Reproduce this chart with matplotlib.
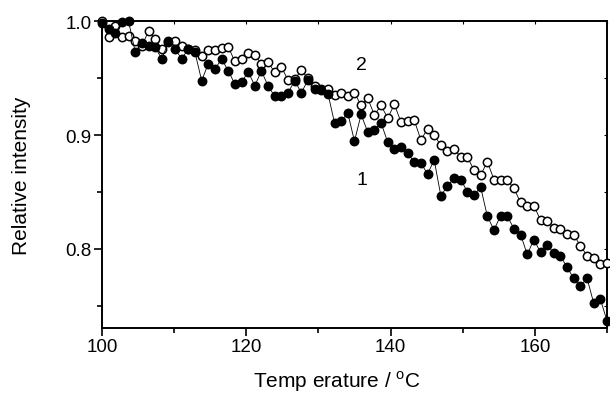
import matplotlib
matplotlib.use("Agg")
import matplotlib.pyplot as plt
from matplotlib.ticker import MultipleLocator

temperature = [100.00, 100.92, 101.84, 102.76, 103.68, 104.61, 105.53, 106.45, 107.37, 108.29,
               109.21, 110.13, 111.05, 111.97, 112.89, 113.82, 114.74, 115.66, 116.58, 117.50,
               118.42, 119.34, 120.26, 121.18, 122.11, 123.03, 123.95, 124.87, 125.79, 126.71,
               127.63, 128.55, 129.47, 130.39, 131.32, 132.24, 133.16, 134.08, 135.00, 135.92,
               136.84, 137.76, 138.68, 139.61, 140.53, 141.45, 142.37, 143.29, 144.21, 145.13,
               146.05, 146.97, 147.89, 148.82, 149.74, 150.66, 151.58, 152.50, 153.42, 154.34,
               155.26, 156.18, 157.11, 158.03, 158.95, 159.87, 160.79, 161.71, 162.63, 163.55,
               164.47, 165.39, 166.32, 167.24, 168.16, 169.08, 170.00]

series1 = [0.998, 0.993, 0.9895, 0.9993, 1.000, 0.9725, 0.9807, 0.9781, 0.9769, 0.9667,
           0.9816, 0.9752, 0.9670, 0.9754, 0.9725, 0.9476, 0.9627, 0.9579, 0.9667, 0.9564,
           0.9447, 0.9462, 0.9553, 0.9434, 0.9560, 0.9430, 0.9339, 0.9339, 0.9371, 0.9476,
           0.9371, 0.9481, 0.9401, 0.9395, 0.9364, 0.9105, 0.9125, 0.9191, 0.8946, 0.9180,
           0.9026, 0.9042, 0.9108, 0.8936, 0.8877, 0.8892, 0.8842, 0.8761, 0.8754, 0.8658,
           0.8781, 0.8468, 0.8550, 0.8623, 0.8605, 0.8503, 0.8476, 0.8541, 0.8287, 0.8167,
           0.8292, 0.8287, 0.8179, 0.8127, 0.7952, 0.8082, 0.7971, 0.8035, 0.7965, 0.7941,
           0.7839, 0.7743, 0.7673, 0.7743, 0.7526, 0.7561, 0.7371]

series2 = [1.000, 0.9857, 0.9959, 0.9857, 0.9871, 0.9827, 0.9783, 0.9910, 0.9842, 0.9754,
           0.9825, 0.9822, 0.9778, 0.9754, 0.9748, 0.9696, 0.9748, 0.9748, 0.9761, 0.9772,
           0.9646, 0.9667, 0.9719, 0.9704, 0.9623, 0.9638, 0.9550, 0.9596, 0.9482, 0.9487,
           0.9570, 0.9497, 0.9430, 0.9404, 0.9404, 0.9355, 0.9368, 0.9339, 0.9371, 0.9259,
           0.9322, 0.9175, 0.9259, 0.9149, 0.9268, 0.9114, 0.9125, 0.9129, 0.8956, 0.9055,
           0.9000, 0.8910, 0.8862, 0.8877, 0.8804, 0.8804, 0.8693, 0.8649, 0.8766, 0.8608,
           0.8605, 0.8605, 0.8531, 0.8408, 0.8380, 0.8380, 0.8254, 0.8248, 0.8182, 0.8175,
           0.8132, 0.8123, 0.8029, 0.7941, 0.7918, 0.7868, 0.7874]

x_ticks = [100, 120, 140, 160]
y_ticks = [0.8, 0.9, 1.0]

plt.rcParams['font.family'] = ['Liberation Sans', 'DejaVu Sans']

fig = plt.figure(figsize=(6.1, 4.1), dpi=100)
ax = fig.add_axes([0.1672, 0.1976, 0.8278, 0.7487])

ax.plot(temperature, series2, '-', color='black', lw=0.6, marker='o', ms=6.0,
        mfc='white', mec='black', mew=1.1, clip_on=False, zorder=3)
ax.plot(temperature, series1, '-', color='black', lw=0.6, marker='o', ms=6.0,
        mfc='black', mec='black', mew=1.1, clip_on=False, zorder=4)

ax.set_xlim(100, 170)
ax.set_ylim(0.7307, 1.0)
ax.set_xticks(x_ticks)
ax.set_yticks(y_ticks)
ax.set_yticklabels([f"{v:.1f}" for v in y_ticks])
ax.xaxis.set_minor_locator(MultipleLocator(10))
ax.yaxis.set_minor_locator(MultipleLocator(0.05))

for s in ax.spines.values():
    s.set_linewidth(1.4)

ax.tick_params(axis='both', which='major', direction='out', length=5.5, width=1.2,
               labelsize=13.5, pad=2)
ax.tick_params(axis='both', which='minor', direction='out', length=3.5, width=1.2)

# inward ticks on top and right
axt = ax.secondary_xaxis('top')
axt.set_xticks(x_ticks)
axt.xaxis.set_minor_locator(MultipleLocator(10))
axt.tick_params(which='both', direction='in', length=2.5, width=0.8, labeltop=False)
axt.spines['top'].set_visible(False)
axr = ax.secondary_yaxis('right')
axr.set_yticks(y_ticks)
axr.yaxis.set_minor_locator(MultipleLocator(0.05))
axr.tick_params(which='both', direction='in', length=2.5, width=0.8, labelright=False)
axr.spines['right'].set_visible(False)

ax.text(136, 0.962, '2', fontsize=14, ha='center', va='center')
ax.text(136, 0.861, '1', fontsize=14, ha='center', va='center')

fig.text(0.5525, 0.068, 'Temp erature / $^{\\mathregular{o}}$C', fontsize=15,
         ha='center', va='center')
fig.text(0.036, 0.5720, 'Relative intensity', fontsize=15, rotation=90,
         ha='center', va='center')

fig.savefig('out.png', dpi=100)
